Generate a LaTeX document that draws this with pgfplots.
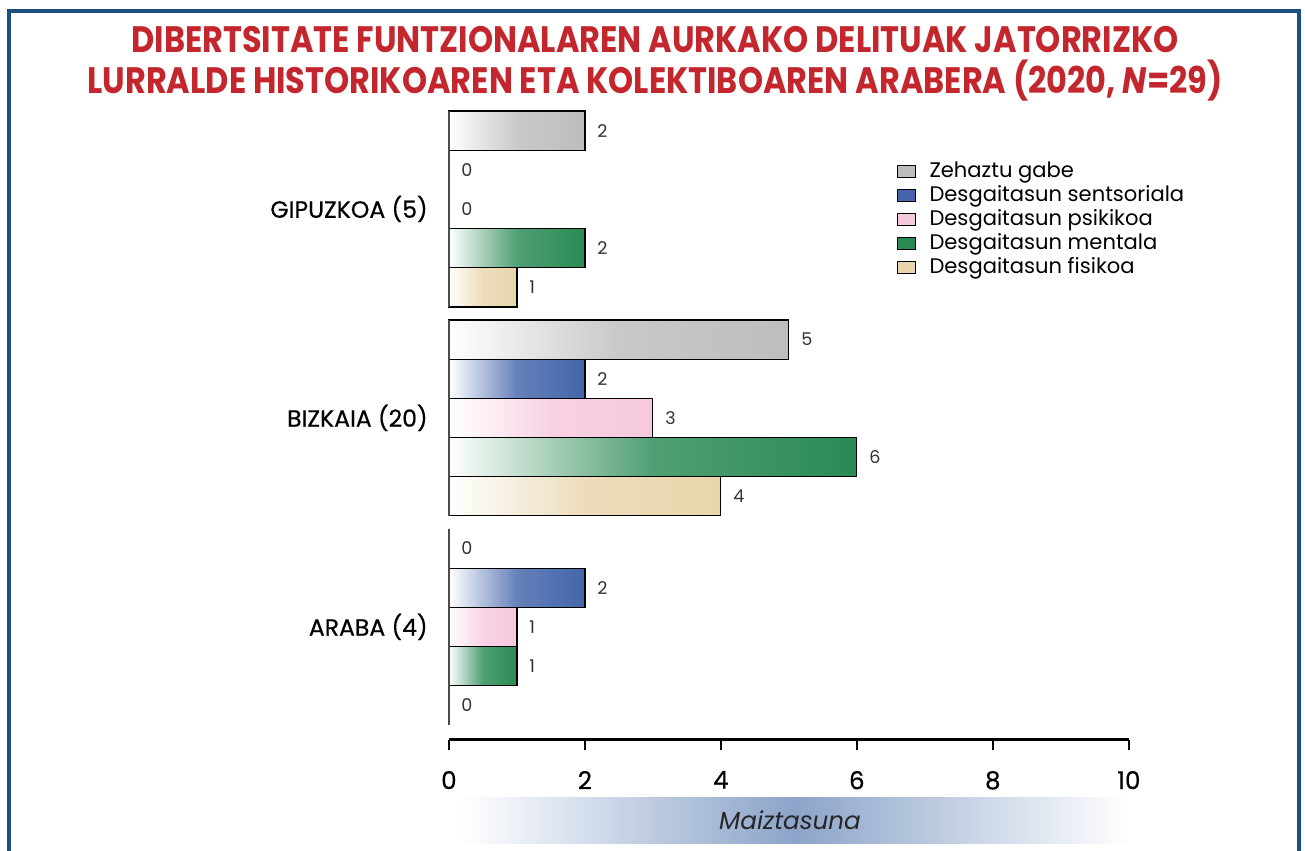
\documentclass[border=0pt]{standalone}
\usepackage{fontspec}
\setmainfont{Poppins}
\newfontfamily\medfont[FakeBold=0.5]{Poppins}
\usepackage{pgfplots}
\pgfplotsset{compat=1.18}
\definecolor{framecol}{RGB}{27,79,127}
\definecolor{titlered}{RGB}{196,38,45}
\definecolor{cgray}{RGB}{189,189,189}
\definecolor{cblue}{RGB}{68,101,171}
\definecolor{cpink}{RGB}{246,200,222}
\definecolor{cgreen}{RGB}{41,138,84}
\definecolor{cbeige}{RGB}{232,213,171}
\definecolor{bandcol}{RGB}{140,164,201}

% one shaded bar style per series (middle color must come last)
\pgfplotsset{
  sbar/.style={draw=black, line width=0.7pt, left color=white,
    right color=#1, middle color=#1!82!white, forget plot},
}

\begin{document}
\begin{tikzpicture}
% page frame, title and the x label band (1 unit = 1 px of the reference)
\begin{scope}[x=0.02cm,y=-0.02cm,yshift=17cm]
  \path[use as bounding box] (0,0) rectangle (1305,850);
  \fill[white] (0,0) rectangle (1305,850);
  \draw[framecol, line width=0.07cm] (9,880) -- (9,11) -- (1299,11) -- (1299,880);
  \node[font=\bfseries\fontsize{18.2}{20.5}\selectfont, text=titlered, align=center, yscale=1.15]
    at (655,64) {DIBERTSITATE FUNTZIONALAREN AURKAKO DELITUAK JATORRIZKO\\
    LURRALDE HISTORIKOAREN ETA KOLEKTIBOAREN ARABERA (2020, \textit{N}=29)};
  \shade[left color=white, right color=white, middle color=bandcol] (460,797) rectangle (1130,843);
  \node[font=\itshape\fontsize{14}{16}\selectfont, text=black!85] at (790,820) {Maiztasuna};
\end{scope}

\begin{axis}[
  at={(8.98cm,2.2cm)}, anchor=south west,
  scale only axis, width=13.6cm, height=12.58cm,
  xmin=0, xmax=10, ymin=-2.883, ymax=13.167,
  xbar, bar width=1, bar shift=0pt,
  clip=false,
  axis x line*=bottom, axis y line*=left,
  x axis line style={-, line width=1.6pt},
  y axis line style={draw=none},
  xtick={0,2,4,6,8,10}, xtick align=outside,
  x tick style={line width=1.2pt, black},
  major tick length=0.2cm,
  ytick={0,5.3333,10.6667},
  yticklabels={ARABA (4), BIZKAIA (20), GIPUZKOA (5)},
  y tick style={draw=none},
  /pgf/number format/assume math mode=true,
  xticklabel style={font=\medfont\fontsize{14}{16}\selectfont, yshift=-0.3cm},
  yticklabel style={font=\medfont\fontsize{13.4}{15}\selectfont, xshift=-0.1cm},
  point meta=x,
  nodes near coords,
  nodes near coords style={font=\fontsize{10}{12}\selectfont, text=black!80, xshift=0.12cm},
  legend style={at={(0.651,0.93)}, anchor=north west, draw=none, fill=none,
    font=\fontsize{12}{14}\selectfont, row sep=-1pt, cells={anchor=west}},
  legend image code/.code={\draw[#1, draw=black, line width=0.6pt] (0cm,-0.12cm) rectangle (0.36cm,0.12cm);
    \path (0.56cm,0cm);},
]
% Zehaztu gabe: Gipuzkoa, Bizkaia
\addplot[sbar=cgray] coordinates {(2,12.6667)};
\addplot[sbar=cgray] coordinates {(5,7.3333)};
% Desgaitasun sentsoriala: Bizkaia, Araba
\addplot[sbar=cblue] coordinates {(2,6.3333)};
\addplot[sbar=cblue] coordinates {(2,1)};
% Desgaitasun psikikoa: Bizkaia, Araba
\addplot[sbar=cpink] coordinates {(3,5.3333)};
\addplot[sbar=cpink] coordinates {(1,0)};
% Desgaitasun mentala: Gipuzkoa, Bizkaia, Araba
\addplot[sbar=cgreen] coordinates {(2,9.6667)};
\addplot[sbar=cgreen] coordinates {(6,4.3333)};
\addplot[sbar=cgreen] coordinates {(1,-1)};
% Desgaitasun fisikoa: Gipuzkoa, Bizkaia
\addplot[sbar=cbeige] coordinates {(1,8.6667)};
\addplot[sbar=cbeige] coordinates {(4,3.3333)};
% zero values (gray/Araba, sentsoriala/Gipuzkoa, psikikoa/Gipuzkoa, fisikoa/Araba)
\addplot[draw=black!70, line width=0.8pt, fill=none, forget plot]
  coordinates {(0,2) (0,11.6667) (0,10.6667) (0,-2)};

% broken y axis line, one piece per group
\draw[black!70, line width=0.8pt] (axis cs:0,8.1667) -- (axis cs:0,13.1667);
\draw[black!70, line width=0.8pt] (axis cs:0,2.8333) -- (axis cs:0,7.8333);
\draw[black!70, line width=0.8pt] (axis cs:0,-2.5) -- (axis cs:0,2.5);

\addlegendimage{fill=cgray}\addlegendentry{Zehaztu gabe}
\addlegendimage{fill=cblue}\addlegendentry{Desgaitasun sentsoriala}
\addlegendimage{fill=cpink}\addlegendentry{Desgaitasun psikikoa}
\addlegendimage{fill=cgreen}\addlegendentry{Desgaitasun mentala}
\addlegendimage{fill=cbeige}\addlegendentry{Desgaitasun fisikoa}
\end{axis}
\end{tikzpicture}
\end{document}
